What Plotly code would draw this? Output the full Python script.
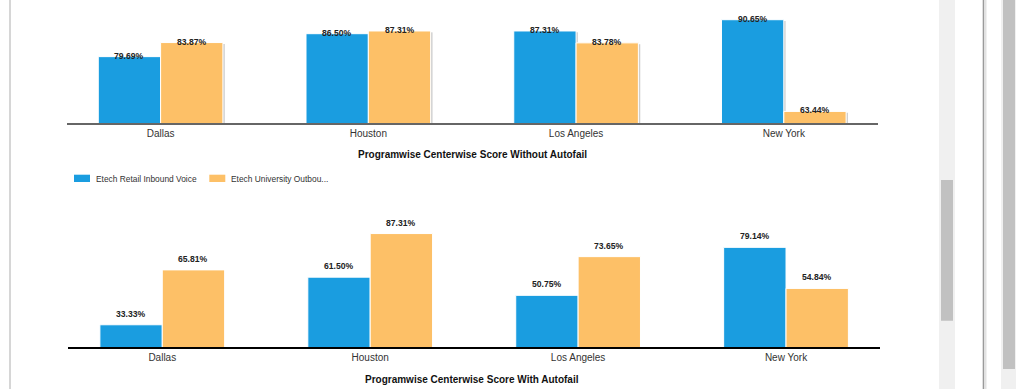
import plotly.graph_objects as go

W, H = 1016, 389

centers = ["Dallas", "Houston", "Los Angeles", "New York"]
series_names = ["Etech Retail Inbound Voice", "Etech University Outbou..."]
colors = ["#1a9de0", "#fdc067"]

without_autofail_retail = [79.69, 86.50, 87.31, 90.65]
without_autofail_univ = [83.87, 87.31, 83.78, 63.44]
with_autofail_retail = [33.33, 61.50, 50.75, 79.14]
with_autofail_univ = [65.81, 87.31, 73.65, 54.84]

title_top = "Programwise Centerwise Score Without Autofail"
title_bottom = "Programwise Centerwise Score With Autofail"

FONT = "Liberation Sans, Arial, sans-serif"


def px(x):
    return x / W


def py(y):
    return 1 - y / H


fig = go.Figure()

top_series = [without_autofail_retail, without_autofail_univ]
bot_series = [with_autofail_retail, with_autofail_univ]

for i, vals in enumerate(top_series):
    fig.add_trace(go.Bar(x=centers, y=vals, name=series_names[i], marker=dict(color=colors[i], line=dict(color="white", width=1)),
                         xaxis="x", yaxis="y", showlegend=False, hoverinfo="skip"))
for i, vals in enumerate(bot_series):
    fig.add_trace(go.Bar(x=centers, y=vals, name=series_names[i], marker=dict(color=colors[i], line=dict(color="white", width=1)),
                         xaxis="x2", yaxis="y2", showlegend=False, hoverinfo="skip"))

cat_range = [-0.452, 3.452]
slot_px = 208
offsets = [-0.15 * slot_px, 0.15 * slot_px]

annotations = []
shapes = []
for i, vals in enumerate(top_series):
    for j, (c, v) in enumerate(zip(centers, vals)):
        annotations.append(dict(x=c, y=v, xref="x", yref="y", text=f"{v:.2f}%", showarrow=False,
                                xshift=offsets[i], yshift=1, yanchor="middle",
                                font=dict(family=FONT, size=8.6, color="#222222", weight="bold")))
        # soft drop shadow on the right edge of each top-chart bar
        shapes.append(dict(type="rect", xref="x", yref="y", xsizemode="pixel", xanchor=j,
                           x0=offsets[i] + 31.2, x1=offsets[i] + 33, y0=60, y1=v - 0.4,
                           fillcolor="#cfcfcf", line=dict(width=0), layer="below"))
for i, vals in enumerate(bot_series):
    for c, v in zip(centers, vals):
        annotations.append(dict(x=c, y=v, xref="x2", yref="y2", text=f"{v:.2f}%", showarrow=False,
                                xshift=offsets[i], yshift=4, yanchor="bottom",
                                font=dict(family=FONT, size=8.6, color="#222222", weight="bold")))

annotations.append(dict(x=px(472), y=py(154), xref="paper", yref="paper", text=f"<b>{title_top}</b>", showarrow=False,
                        xanchor="center", yanchor="middle", font=dict(family=FONT, size=10, color="#111111")))
annotations.append(dict(x=px(472), y=py(379), xref="paper", yref="paper", text=f"<b>{title_bottom}</b>", showarrow=False,
                        xanchor="center", yanchor="middle", font=dict(family=FONT, size=10, color="#111111")))

# custom legend
legend_x = [74, 209.3]
for i, name in enumerate(series_names):
    x0 = legend_x[i]
    shapes.append(dict(type="rect", xref="paper", yref="paper", x0=px(x0), x1=px(x0 + 16), y0=py(182), y1=py(174.7),
                       fillcolor=colors[i], line=dict(width=0)))
    annotations.append(dict(x=px(x0 + 20), y=py(178.5), xref="paper", yref="paper", text=name, showarrow=False,
                            xanchor="left", yanchor="middle", font=dict(family=FONT, size=8.4, color="#333333")))

# page chrome: left border and scrollbars
shapes += [
    dict(type="line", xref="paper", yref="paper", x0=px(10), x1=px(10), y0=0, y1=1, line=dict(color="#c8c8c8", width=1.5)),
    dict(type="rect", xref="paper", yref="paper", x0=px(939), x1=px(955), y0=0, y1=1, fillcolor="#f0f0f0", line=dict(width=0)),
    dict(type="rect", xref="paper", yref="paper", x0=px(941), x1=px(953), y0=py(320.7), y1=py(180), fillcolor="#c1c1c1", line=dict(width=0)),
    dict(type="rect", xref="paper", yref="paper", x0=px(982.7), x1=px(984.3), y0=0, y1=1, fillcolor="#9a9a9a", line=dict(width=0)),
    dict(type="rect", xref="paper", yref="paper", x0=px(984.3), x1=px(986.5), y0=0, y1=1, fillcolor="#e2e2e2", line=dict(width=0)),
    dict(type="rect", xref="paper", yref="paper", x0=px(1001), x1=px(1016), y0=0, y1=1, fillcolor="#f0f0f0", line=dict(width=0)),
    dict(type="rect", xref="paper", yref="paper", x0=px(1003), x1=px(1015), y0=py(369), y1=1, fillcolor="#c1c1c1", line=dict(width=0)),
]

k_top = 3.37
top_axis_y = 123
k_bot = 1.69
bot_axis_y = 347.3
bot_top_y = 190

fig.update_layout(
    width=W, height=H, margin=dict(l=0, r=0, t=0, b=0),
    paper_bgcolor="white", plot_bgcolor="white",
    barmode="group", bargap=0.4, bargroupgap=0,
    showlegend=False,
    font=dict(family=FONT, size=10, color="#333333"),
    xaxis=dict(domain=[px(66.7), px(877.7)], anchor="y", type="category", range=cat_range,
               showline=True, linecolor="#666666", linewidth=1.5, showgrid=False, zeroline=False, ticks="",
               tickfont=dict(family=FONT, size=10, color="#333333")),
    yaxis=dict(domain=[py(top_axis_y), 1], range=[60, 60 + top_axis_y / k_top], visible=False),
    xaxis2=dict(domain=[px(68.3), px(880)], anchor="y2", type="category", range=cat_range,
                showline=True, linecolor="#000000", linewidth=1.5, showgrid=False, zeroline=False, ticks="",
                tickfont=dict(family=FONT, size=10, color="#333333")),
    yaxis2=dict(domain=[py(bot_axis_y), py(bot_top_y)], range=[20, 20 + (bot_axis_y - bot_top_y) / k_bot], visible=False),
    annotations=annotations,
    shapes=shapes,
)

fig.write_html("out.html", config={"displayModeBar": False},
               post_script="document.body.style.margin='0';document.body.style.overflow='hidden';")
